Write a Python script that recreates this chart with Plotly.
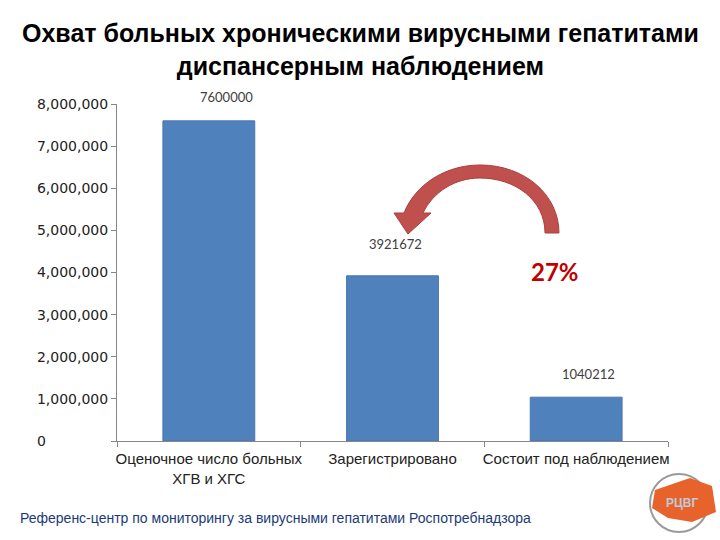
import plotly.graph_objects as go

# data
categories = ["Оценочное число больных<br>ХГВ и ХГС", "Зарегистрировано", "Состоит под наблюдением"]
values = [7600000, 3921672, 1040212]
share_label = "27%"
y_ticks = [0, 1000000, 2000000, 3000000, 4000000, 5000000, 6000000, 7000000, 8000000]
# "0" is left-aligned in the original, pad it to the width of the other labels
y_tick_text = ["0" + "\u2007" * 6 + "\u2008" * 2] + [f"{v:,}" for v in y_ticks[1:]]

W, H = 720, 540
L, R, T, B = 117, 668, 104, 441   # plot area in pixels


def px(x, y):
    # pixel -> paper coords
    return (x - L) / (R - L), (B - y) / (B - T)


def path(curves):
    s = ""
    for cmd, pts in curves:
        if cmd == "L":
            s += " ".join("L %.4f,%.4f" % px(*p) for p in pts) + " "
        else:
            s += cmd + " " + " ".join("%.4f,%.4f" % px(*p) for p in pts) + " "
    return s + "Z"


fig = go.Figure()
fig.add_trace(go.Bar(x=categories, y=values, marker_color="#4F81BD",
                     marker_line_color="#4A76AE", marker_line_width=1,
                     width=0.5, showlegend=False))

# value labels above bars
for c, v, sh, xs in zip(categories, values, [24, 32, 23], [18, 3, 12]):
    fig.add_annotation(x=c, y=v, text=str(v), showarrow=False, yshift=sh, xshift=xs,
                       font=dict(family="Lato, DejaVu Sans", size=13, color="#404040"))

# curved arrow from the third bar to the second one
arrow = path([
    ("M", [(559, 233)]),
    ("C", [(559, 195), (525, 165), (480, 165)]),
    ("C", [(445, 165), (415, 185), (404, 213)]),
    ("L", [(394, 213), (408, 234), (431, 213), (423, 213)]),
    ("C", [(433, 192), (455, 178), (480, 178)]),
    ("C", [(515, 178), (545, 200), (545, 233)]),
])
fig.add_shape(type="path", path=arrow, xref="paper", yref="paper",
              fillcolor="#C0504D", line=dict(color="#A8403E", width=1))
fig.add_annotation(x=px(555, 271)[0], y=px(555, 271)[1], xref="paper", yref="paper",
                   text="<b>" + share_label + "</b>", showarrow=False,
                   xanchor="center", yanchor="middle",
                   font=dict(family="Lato, Open Sans", size=24, color="#C00000"))

# title and footer
fig.add_annotation(x=px(360, 49)[0], y=px(360, 49)[1], xref="paper", yref="paper",
                   text="<b>Охват больных хроническими вирусными гепатитами<br>диспансерным наблюдением</b>",
                   showarrow=False, xanchor="center", yanchor="middle",
                   font=dict(family="Liberation Sans, Arial", size=25, color="black"))
fig.add_annotation(x=px(18, 518)[0], y=px(18, 518)[1], xref="paper", yref="paper",
                   text="Референс-центр по мониторингу за вирусными гепатитами Роспотребнадзора",
                   showarrow=False, xanchor="left", yanchor="middle",
                   font=dict(family="Liberation Sans", size=14, color="#1B3A78"))

# rough logo
fig.add_shape(type="circle", xref="paper", yref="paper",
              x0=px(650, 0)[0], x1=px(708, 0)[0], y0=px(0, 532)[1], y1=px(0, 474)[1],
              line=dict(color="#9A9A9A", width=2))
fig.add_shape(type="path", xref="paper", yref="paper", fillcolor="#E8632B",
              line=dict(width=0),
              path=path([("M", [(655, 490)]), ("L", [(690, 478), (712, 486), (716, 512),
                                                      (692, 522), (668, 518), (652, 508)])]))
fig.add_annotation(x=px(682, 503)[0], y=px(682, 503)[1], xref="paper", yref="paper",
                   text="<b>РЦВГ</b>", showarrow=False, xanchor="center", yanchor="middle",
                   font=dict(family="Liberation Sans", size=12, color="#BFC9D9"))

fig.update_layout(
    width=W, height=H, plot_bgcolor="white", paper_bgcolor="white",
    margin=dict(l=L, r=W - R, t=T, b=H - B), bargap=0.5,
)
fig.update_xaxes(showline=True, linecolor="#868686", ticks="outside", tickson="boundaries",
                 tickcolor="#868686", ticklen=5, tickangle=0, automargin=False,
                 ticklabelstandoff=4,
                 tickfont=dict(family="Liberation Sans", size=15, color="#222"))
fig.update_yaxes(range=[0, 8000000], tickvals=y_ticks, ticktext=y_tick_text, showgrid=False,
                 showline=True, linecolor="#868686", ticks="outside", tickcolor="#868686", ticklen=5,
                 zeroline=False, automargin=False,
                 tickfont=dict(family="DejaVu Sans", size=14, color="#222"))

# page body has an 8px default margin; drop it so the figure sits at the top-left corner
fig.write_html("out.html", config={"displayModeBar": False},
               post_script="document.body.style.margin='0';")
